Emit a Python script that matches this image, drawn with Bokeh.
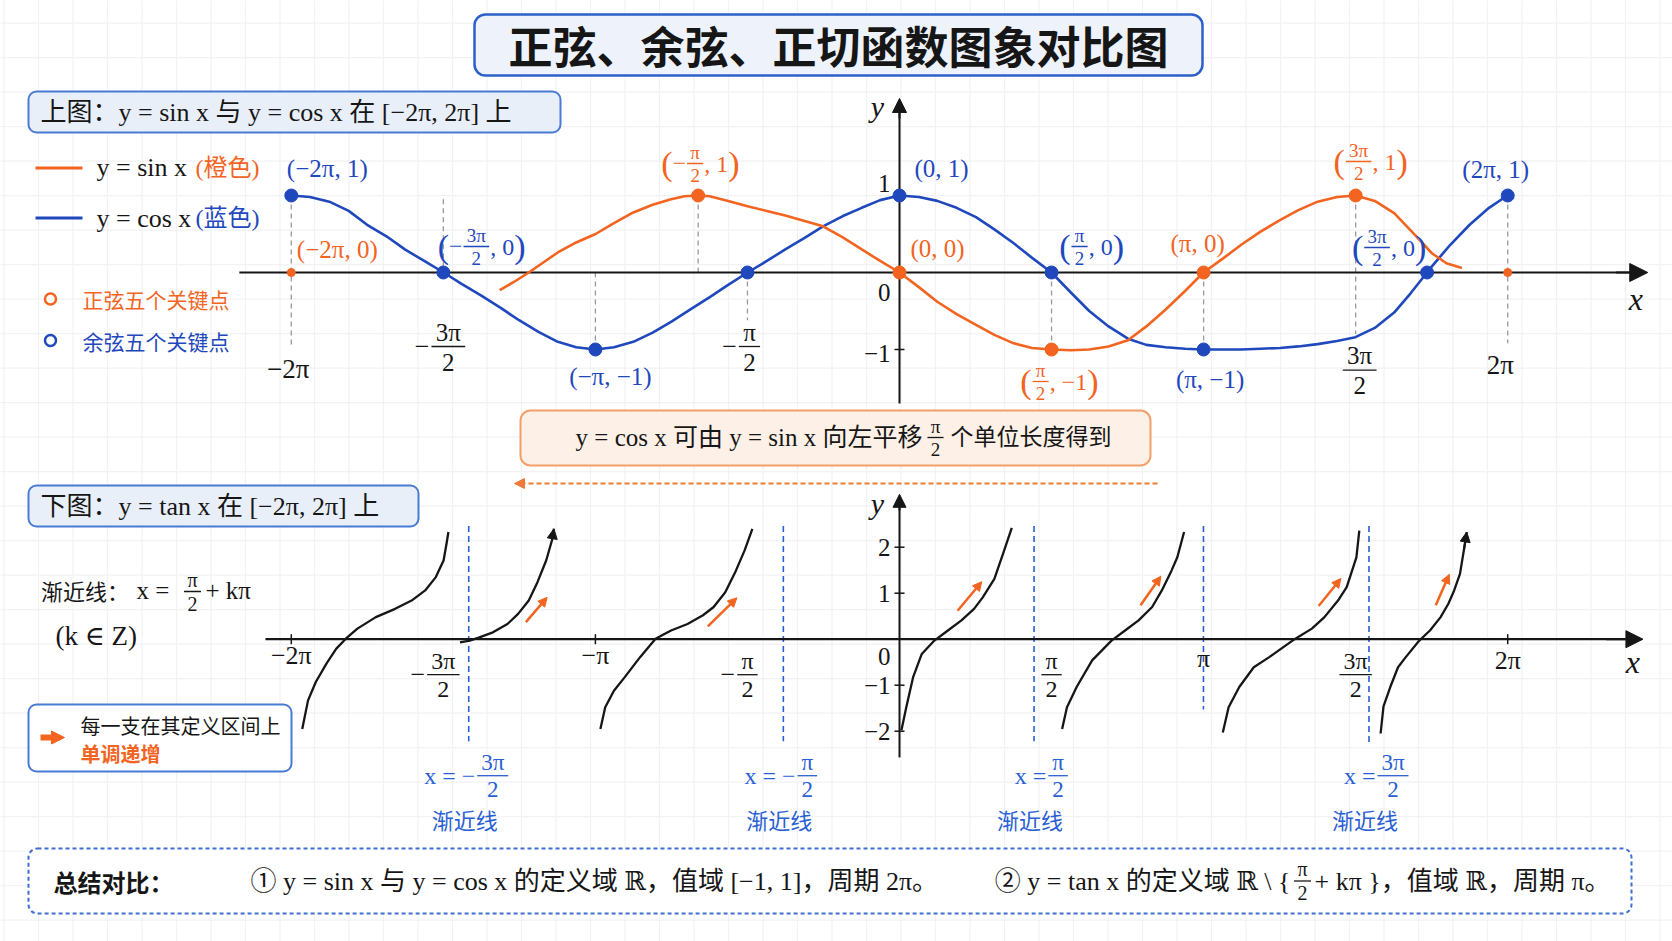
import numpy as np
from bokeh.plotting import figure
from bokeh.models import Range1d, Arrow, NormalHead, BoxAnnotation
from bokeh.core.properties import value
from bokeh.embed import file_html
from bokeh.resources import INLINE

PI = np.pi

# ===================== DATA =====================
title = "正弦、余弦、正切函数图象对比图"
top_caption = "上图：y = sin x 与 y = cos x 在 [−2π, 2π] 上"
bot_caption = "下图：y = tan x 在 [−2π, 2π] 上"

# upper chart, blue curve (y = cos x)
cos_x = [-6.28, -6.09, -5.89, -5.69, -5.50, -5.30, -5.11, -4.91, -4.71, -4.52, -4.32, -4.12,
         -3.93, -3.73, -3.53, -3.34, -3.14, -2.95, -2.75, -2.55, -2.36, -2.16, -1.96, -1.77,
         -1.57, -1.37, -1.18, -0.98, -0.79, -0.59, -0.39, -0.20, 0.00, 0.20, 0.39, 0.59,
         0.79, 0.98, 1.18, 1.37, 1.57, 1.77, 1.96, 2.16, 2.36, 2.55, 2.75, 2.95,
         3.14, 3.34, 3.53, 3.73, 3.93, 4.12, 4.32, 4.52, 4.71, 4.91, 5.11, 5.28,
         5.45, 5.50, 5.69, 5.89, 6.09, 6.28]
cos_y = [1.00, 0.98, 0.92, 0.80, 0.62, 0.47, 0.30, 0.15, 0.00, -0.15, -0.30, -0.46,
         -0.62, -0.77, -0.90, -0.97, -1.00, -0.97, -0.90, -0.78, -0.64, -0.48, -0.32, -0.16,
         0.00, 0.15, 0.30, 0.45, 0.60, 0.73, 0.84, 0.94, 1.00, 0.98, 0.93, 0.84,
         0.72, 0.56, 0.38, 0.19, 0.00, -0.26, -0.50, -0.70, -0.86, -0.94, -0.97, -0.99,
         -1.00, -1.00, -1.00, -0.99, -0.98, -0.96, -0.93, -0.89, -0.84, -0.72, -0.52, -0.27,
         0.00, 0.08, 0.36, 0.62, 0.84, 1.00]
# upper chart, orange curve (y = sin x)
sin_x = [-4.13, -3.98, -3.83, -3.68, -3.53, -3.34, -3.14, -2.95, -2.75, -2.55, -2.36, -2.22,
         -2.08, -1.96, -1.77, -1.57, -1.37, -1.18, -0.98, -0.79, -0.59, -0.39, -0.20, 0.00,
         0.20, 0.39, 0.59, 0.79, 0.98, 1.18, 1.37, 1.57, 1.77, 1.96, 2.16, 2.36,
         2.55, 2.75, 2.95, 3.14, 3.34, 3.53, 3.73, 3.93, 4.12, 4.32, 4.52, 4.71,
         4.91, 5.11, 5.30, 5.50, 5.65, 5.81]
sin_y = [-0.23, -0.12, 0.00, 0.13, 0.26, 0.39, 0.50, 0.64, 0.78, 0.88, 0.95, 0.99,
         1.00, 0.99, 0.93, 0.86, 0.80, 0.74, 0.67, 0.60, 0.46, 0.30, 0.15, 0.00,
         -0.19, -0.38, -0.54, -0.68, -0.81, -0.92, -0.98, -1.00, -1.01, -1.00, -0.96, -0.88,
         -0.70, -0.48, -0.24, 0.00, 0.18, 0.36, 0.53, 0.68, 0.81, 0.92, 0.98, 1.00,
         0.93, 0.77, 0.52, 0.25, 0.12, 0.06]

# key points
cos_key_x = [-2 * PI, -1.5 * PI, -PI, -0.5 * PI, 0.0, 0.5 * PI, PI, 5.45, 2 * PI]
cos_key_y = [1, 0, -1, 0, 1, 0, -1, 0, 1]
sin_key_x = [-2.08, 0.0, 0.5 * PI, PI, 1.5 * PI]
sin_key_y = [1, 0, -1, 0, 1]
sin_end_x = [-2 * PI, 2 * PI]
sin_end_y = [0, 0]

# point labels: plain ones
cos_lab_text = ["(−2π, 1)", "(−π, −1)", "(0, 1)", "(π, −1)", "(2π, 1)"]
cos_lab_x = [-2 * PI, -PI, 0.0, PI, 2 * PI]
cos_lab_y = [1, -1, 1, -1, 1]
sin_lab_text = ["(−2π, 0)", "(0, 0)", "(π, 0)"]
sin_lab_x = [-2 * PI, 0.0, PI]
sin_lab_y = [0, 0, 0]
# point labels with a fraction: (prefix, numerator, denominator, suffix)
cos_flab = [("−", "3π", "2", ", 0"), ("", "π", "2", ", 0"), ("", "3π", "2", ", 0")]
cos_flab_x = [-1.5 * PI, 0.5 * PI, 5.45]
cos_flab_y = [0, 0, 0]
sin_flab = [("−", "π", "2", ", 1"), ("", "π", "2", ", −1"), ("", "3π", "2", ", 1")]
sin_flab_x = [-2.08, 0.5 * PI, 1.5 * PI]
sin_flab_y = [1, -1, 1]

# guide lines (x, y from, y to)
guide_x = [-2 * PI, -1.5 * PI, -PI, -2.08, -0.5 * PI, 0.5 * PI, PI, 1.5 * PI, 2 * PI]
guide_y0 = [1.0, 0.95, 0.0, 1.0, 0.0, 0.0, 0.0, 1.0, 1.0]
guide_y1 = [-0.95, 0.0, -1.0, 0.0, -0.62, -1.0, -1.0, -0.80, -0.92]

# upper axis tick labels
top_tick_text = ["−2π", "2π"]
top_tick_x = [-2 * PI, 2 * PI]
top_ftick = [("−", "3π", "2"), ("−", "π", "2"), ("", "3π", "2")]
top_ftick_x = [-1.5 * PI, -0.5 * PI, 1.5 * PI]
top_ytick = [1, -1]
top_ytick_text = ["1", "−1"]

# lower chart: tan branches
tan_xs = [
    [-6.17, -6.11, -6.03, -5.92, -5.82, -5.72, -5.60, -5.41, -5.21, -5.04, -4.90, -4.79, -4.71, -4.68, -4.66],
    [-4.54, -4.44, -4.34, -4.20, -4.05, -3.94, -3.83, -3.74, -3.65, -3.59, -3.57],
    [-3.09, -3.04, -2.95, -2.84, -2.68, -2.52, -2.36, -2.19, -2.03, -1.92, -1.80, -1.69, -1.60, -1.52],
    [0.02, 0.07, 0.14, 0.23, 0.36, 0.50, 0.64, 0.77, 0.86, 0.98, 1.07, 1.16],
    [1.68, 1.73, 1.83, 1.99, 2.19, 2.33, 2.47, 2.61, 2.71, 2.81, 2.87, 2.94],
    [3.34, 3.40, 3.51, 3.66, 3.82, 4.06, 4.26, 4.39, 4.53, 4.62, 4.72, 4.75],
    [4.97, 5.00, 5.07, 5.15, 5.23, 5.37, 5.48, 5.59, 5.67, 5.73, 5.79, 5.83, 5.86],
]
tan_ys = [
    [-1.95, -1.33, -0.93, -0.53, -0.21, 0.01, 0.23, 0.48, 0.66, 0.84, 1.06, 1.35, 1.71, 2.07, 2.33],
    [-0.07, -0.03, 0.04, 0.15, 0.33, 0.55, 0.84, 1.24, 1.71, 2.15, 2.40],
    [-1.95, -1.48, -1.12, -0.83, -0.39, 0.01, 0.19, 0.33, 0.52, 0.70, 1.02, 1.49, 1.93, 2.40],
    [-1.98, -1.48, -0.83, -0.32, -0.03, 0.19, 0.41, 0.66, 0.91, 1.31, 1.86, 2.42],
    [-1.95, -1.48, -1.04, -0.46, -0.03, 0.19, 0.41, 0.70, 1.06, 1.49, 1.78, 2.33],
    [-2.03, -1.48, -1.04, -0.61, -0.39, -0.03, 0.23, 0.48, 0.84, 1.13, 1.78, 2.36],
    [-2.05, -1.46, -1.04, -0.61, -0.39, -0.03, 0.19, 0.48, 0.77, 1.06, 1.42, 1.93, 2.33],
]
tan_arrow_branches = [1, 6]

# asymptotes
asym_x = [-4.45, -1.20, 1.39, 3.14, 4.85]
asym_top = [2.46, 2.46, 2.46, 2.46, 2.46]
asym_bot = [-2.22, -2.22, -2.22, -1.53, -2.26]
asym_lab_x = [-4.45, -1.20, 1.39, 4.85]
asym_lab = [("x = −", "3π", "2"), ("x = −", "π", "2"), ("x =", "π", "2"), ("x =", "3π", "2")]
asym_word = "渐近线"

# "increasing" arrows
inc_x0 = [-3.86, -1.98, 0.60, 2.49, 4.33, 5.54]
inc_y0 = [0.37, 0.28, 0.62, 0.74, 0.72, 0.74]
inc_x1 = [-3.64, -1.68, 0.85, 2.70, 4.56, 5.68]
inc_y1 = [0.91, 0.90, 1.25, 1.37, 1.32, 1.41]

# lower axis ticks
bot_tick_text = ["−2π", "−π", "π", "2π"]
bot_tick_x = [-2 * PI, -PI, PI, 2 * PI]
bot_ftick = [("−", "3π", "2"), ("−", "π", "2"), ("", "π", "2"), ("", "3π", "2")]
bot_ftick_x = [-1.5 * PI, -0.5 * PI, 0.5 * PI, 1.5 * PI]
bot_xmark = [-2 * PI, -PI, 2 * PI]
bot_ytick = [2, 1, -1, -2]
bot_ytick_text = ["2", "1", "−1", "−2"]

legend_sin = ("y = sin x", "(橙色)")
legend_cos = ("y = cos x", "(蓝色)")
legend_keys = ["正弦五个关键点", "余弦五个关键点"]
shift_pre, shift_num, shift_den, shift_post = "y = cos x 可由 y = sin x 向左平移", "π", "2", "个单位长度得到"
asym_rule = ("渐近线：", "x =", "π", "2", "+ kπ", "(k ∈ Z)")
mono_text = ("每一支在其定义区间上", "单调递增")
summary_head = "总结对比："
summary_1 = "① y = sin x 与 y = cos x 的定义域 ℝ，值域 [−1, 1]，周期 2π。"
summary_2 = ("② y = tan x 的定义域 ℝ \\ {", "π", "2", "+ kπ }，值域 ℝ，周期 π。")

# ===================== LAYOUT / STYLE =====================
W, H = 1672, 941
X0, SX = 899.0, 96.8          # pixel of x = 0, pixels per radian
Y0_TOP, UY_TOP = 272.0, 77.0  # upper chart
Y0_TAN, UY_TAN = 638.7, 46.0  # lower chart

ORANGE = "#f2641f"
BLUE = "#1f48bd"
DARK = "#161616"
ABLUE = "#2b5fd4"
SERIF = "Liberation Serif, DejaVu Serif, Noto Sans CJK SC"
CJK = "Noto Sans CJK SC"

p = figure(width=W, height=H, x_range=Range1d(-X0 / SX, (W - X0) / SX), y_range=Range1d(H, 0),
           output_backend="svg", toolbar_location=None, min_border=0,
           x_axis_location=None, y_axis_location=None)
p.extra_x_ranges = {"px": Range1d(0, W)}
p.extra_y_ranges = {"top": Range1d((Y0_TOP - H) / UY_TOP, Y0_TOP / UY_TOP),
                    "tan": Range1d((Y0_TAN - H) / UY_TAN, Y0_TAN / UY_TAN)}
p.xgrid.visible = False
p.ygrid.visible = False
p.outline_line_color = None
p.background_fill_color = "white"
p.border_fill_color = "white"

XS = {"default": SX, "px": 1.0}
YS = {"default": 1.0, "top": -UY_TOP, "tan": -UY_TAN}
CW = {'(': .333, ')': .333, '−': .564, ',': .25, ' ': .25, 'π': .55, '=': .564, '+': .564}


def fwidth(s, size):
    return sum(CW.get(c, 0.5) for c in s) * size


def T(x, y, s, xr="default", yr="default", dx=0.0, dy=0.0, size=22, color=DARK, font=SERIF,
      align="center", baseline="middle", style="normal"):
    p.text(x=[x + dx / XS[xr]], y=[y + dy / YS[yr]], text=[s], x_range_name=xr, y_range_name=yr,
           text_font=value(font), text_font_size=value(f"{size}px"), text_color=color,
           text_align=align, text_baseline=baseline, text_font_style=style)


def frac(x, y, num, den, xr, yr, dx, dy, fs, color):
    w = fwidth(num, fs) + 0.3 * fs
    T(x, y, num, xr, yr, dx, dy - 0.58 * fs, size=fs, color=color)
    T(x, y, den, xr, yr, dx, dy + 0.62 * fs, size=fs, color=color)
    yy = y + dy / YS[yr]
    p.segment(x0=[x + (dx - w / 2) / XS[xr]], y0=[yy], x1=[x + (dx + w / 2) / XS[xr]], y1=[yy],
              line_color=color, line_width=1.3, x_range_name=xr, y_range_name=yr)
    return w


def plabel(x, y, pre, num, den, post, xr, yr, dx, dy, size, color):
    fs = round(size * 0.8)
    w = frac(x, y, num, den, xr, yr, dx, dy, fs, color)
    lft = dx - w / 2 - 1
    if pre:
        T(x, y, pre, xr, yr, lft, dy, size=size, color=color, align="right")
        lft -= fwidth(pre, size)
    T(x, y, "(", xr, yr, lft, dy, size=int(size * 1.45), color=color, align="right")
    rgt = dx + w / 2 + 1
    T(x, y, post, xr, yr, rgt, dy, size=size, color=color, align="left")
    rgt += fwidth(post, size)
    T(x, y, ")", xr, yr, rgt, dy, size=int(size * 1.45), color=color, align="left")


def box(l, t, r, b, fill, line, lw=2.0, dash="solid", radius=8):
    p.add_layout(BoxAnnotation(left=l, right=r, top=t, bottom=b, x_range_name="px",
                               fill_color=fill, fill_alpha=1.0, line_color=line, line_alpha=1.0,
                               line_width=lw, line_dash=dash, border_radius=radius, level="underlay"))


def arrow(x0, y0, x1, y1, yr, color, lw, head, xr="default", dash="solid"):
    p.add_layout(Arrow(end=NormalHead(size=head, fill_color=color, line_color=color, line_width=1),
                       x_start=x0, y_start=y0, x_end=x1, y_end=y1, line_color=color,
                       line_width=lw, line_dash=dash, x_range_name=xr, y_range_name=yr))


# faint background grid
gx = np.arange(3.5, W, 34.5)
gy = np.arange(22.7, H, 34.5)
p.segment(x0=gx, y0=0, x1=gx, y1=H, x_range_name="px", line_color="#f1f2f5", line_width=1.2, level="image")
p.segment(x0=0, y0=gy, x1=W, y1=gy, x_range_name="px", line_color="#f1f2f5", line_width=1.2, level="image")

# boxes
box(474, 14, 1202, 75, "#edf2fb", "#2c5fc8", lw=2.5, radius=11)
box(28, 91, 560, 132, "#e8eff9", "#4a7bd3", lw=2, radius=8)
box(520, 410, 1150, 465, "#fdf0e6", "#f1a06b", lw=2, radius=10)
box(28, 485, 418, 526, "#e8eff9", "#4a7bd3", lw=2, radius=8)
box(28, 704, 291, 771, "#ffffff", "#4a7bd3", lw=2, radius=8)
box(28, 848, 1631, 913, "#ffffff", "#3f6fd0", lw=2, dash="4 3", radius=9)

# title and captions
T(838, 44.5, title, xr="px", size=44, font=CJK, style="bold")
T(40, 111.5, top_caption, xr="px", size=26, align="left")
T(40, 505.5, bot_caption, xr="px", size=26, align="left")

# legend
p.segment(x0=[35, 35], y0=[167.4, 217.5], x1=[82, 82], y1=[167.4, 217.5], x_range_name="px",
          line_color=[ORANGE, BLUE], line_width=3)
T(96, 167.4, legend_sin[0], xr="px", size=26, align="left")
T(195, 167.4, legend_sin[1], xr="px", size=24, color=ORANGE, align="left")
T(96, 217.5, legend_cos[0], xr="px", size=26, align="left")
T(195, 217.5, legend_cos[1], xr="px", size=24, color=BLUE, align="left")
p.scatter([50, 50], [298.6, 340], x_range_name="px", size=11, fill_color="white",
          line_color=[ORANGE, BLUE], line_width=2.5)
T(82, 298.6, legend_keys[0], xr="px", size=21, font=CJK, color=ORANGE, align="left")
T(82, 340, legend_keys[1], xr="px", size=21, font=CJK, color=BLUE, align="left")

# ---------------- upper chart ----------------
p.segment(x0=guide_x, y0=guide_y0, x1=guide_x, y1=guide_y1, y_range_name="top",
          line_color="#9a9a9a", line_width=1.3, line_dash="5 4")
p.segment(x0=[-6.82], y0=[0], x1=[7.6], y1=[0], y_range_name="top", line_color=DARK, line_width=2.2)
arrow(7.4, 0, 7.73, 0, "top", DARK, 2.2, 18)
p.segment(x0=[0], y0=[-1.70], x1=[0], y1=[2.15], y_range_name="top", line_color=DARK, line_width=2.0)
arrow(0, 2.0, 0, 2.26, "top", DARK, 2.0, 14)
p.scatter([0, 0], top_ytick, marker="dash", size=10, y_range_name="top", line_color=DARK, line_width=1.5)
T(7.73, 0, "x", yr="top", dx=-12, dy=26, size=32, style="italic")
T(0, 2.26, "y", yr="top", dx=-22, dy=8, size=30, style="italic")
T(0, 0, "0", yr="top", dx=-9, dy=20, size=25, align="right")
T(0, top_ytick[0], top_ytick_text[0], yr="top", dx=-9, dy=-12, size=25, align="right")
T(0, top_ytick[1], top_ytick_text[1], yr="top", dx=-9, dy=4, size=25, align="right")

top_tick_off = [(-3, 96), (-7.5, 92)]
for s, x, (dx, dy) in zip(top_tick_text, top_tick_x, top_tick_off):
    T(x, 0, s, yr="top", dx=dx, dy=dy, size=27)
top_ftick_off = [(5, 74), (2, 74), (4, 97.6)]
for (pre, num, den), x, (dx, dy) in zip(top_ftick, top_ftick_x, top_ftick_off):
    w = frac(x, 0, num, den, "default", "top", dx, dy, 25, DARK)
    if pre:
        T(x, 0, pre, yr="top", dx=dx - w / 2 - 2, dy=dy, size=26, align="right")

p.line(cos_x, cos_y, y_range_name="top", line_color=BLUE, line_width=2.6)
p.line(sin_x, sin_y, y_range_name="top", line_color=ORANGE, line_width=2.6)
p.scatter(cos_key_x, cos_key_y, y_range_name="top", size=13, fill_color=BLUE, line_color=BLUE)
p.scatter(sin_key_x, sin_key_y, y_range_name="top", size=13, fill_color=ORANGE, line_color=ORANGE)
p.scatter(sin_end_x, sin_end_y, y_range_name="top", size=8, fill_color=ORANGE, line_color=ORANGE)

cos_lab_off = [(36, -27), (15, 27), (42, -27), (6.5, 30), (-12, -26)]
for s, x, y, (dx, dy) in zip(cos_lab_text, cos_lab_x, cos_lab_y, cos_lab_off):
    T(x, y, s, yr="top", dx=dx, dy=dy, size=25, color=BLUE)
sin_lab_off = [(46, -23), (38, -24), (-6, -29)]
for s, x, y, (dx, dy) in zip(sin_lab_text, sin_lab_x, sin_lab_y, sin_lab_off):
    T(x, y, s, yr="top", dx=dx, dy=dy, size=25, color=ORANGE)
cos_flab_off = [(33, -26), (28, -26), (-50, -25)]
for (pre, num, den, post), x, y, (dx, dy) in zip(cos_flab, cos_flab_x, cos_flab_y, cos_flab_off):
    plabel(x, y, pre, num, den, post, "default", "top", dx, dy, 24, BLUE)
sin_flab_off = [(-3, -32), (-11, 32), (3, -34)]
for (pre, num, den, post), x, y, (dx, dy) in zip(sin_flab, sin_flab_x, sin_flab_y, sin_flab_off):
    plabel(x, y, pre, num, den, post, "default", "top", dx, dy, 24, ORANGE)

# middle note
T(922, 437, shift_pre, xr="px", size=25, align="right")
frac(935, 437, shift_num, shift_den, "px", "default", 0, 0, 19, DARK)
T(950, 437, shift_post, xr="px", size=23, align="left")
arrow(1157, 483, 514, 483, "default", "#f07a3a", 2.0, 10, xr="px", dash="5 3")

# ---------------- lower chart ----------------
p.segment(x0=asym_x, y0=asym_top, x1=asym_x, y1=asym_bot, y_range_name="tan",
          line_color=ABLUE, line_width=1.6, line_dash="6 4")
p.segment(x0=[-6.55], y0=[0], x1=[7.5], y1=[0], y_range_name="tan", line_color=DARK, line_width=2.2)
arrow(7.3, 0, 7.68, 0, "tan", DARK, 2.2, 17)
p.segment(x0=[0], y0=[-2.57], x1=[0], y1=[2.95], y_range_name="tan", line_color=DARK, line_width=2.0)
arrow(0, 2.8, 0, 3.15, "tan", DARK, 2.0, 13)
p.scatter([0] * len(bot_ytick), bot_ytick, marker="dash", size=10, y_range_name="tan",
          line_color=DARK, line_width=1.5)
p.scatter(bot_xmark, [0] * len(bot_xmark), marker="dash", angle=PI / 2, size=10, y_range_name="tan",
          line_color=DARK, line_width=1.5)
T(7.68, 0, "x", yr="tan", dx=-10, dy=23, size=32, style="italic")
T(0, 3.15, "y", yr="tan", dx=-22, dy=9, size=30, style="italic")
T(0, 0, "0", yr="tan", dx=-9, dy=17, size=25, align="right")
for v, s in zip(bot_ytick, bot_ytick_text):
    T(0, v, s, yr="tan", dx=-9, dy=0, size=25, align="right")
bot_tick_off = [16, 16, 19, 21]
for s, x, dy in zip(bot_tick_text, bot_tick_x, bot_tick_off):
    T(x, 0, s, yr="tan", dy=dy, size=26)
for (pre, num, den), x in zip(bot_ftick, bot_ftick_x):
    w = frac(x, 0, num, den, "default", "tan", 0, 35.5, 24, DARK)
    if pre:
        T(x, 0, pre, yr="tan", dx=-w / 2 - 2, dy=35.5, size=26, align="right")

p.multi_line(tan_xs, tan_ys, y_range_name="tan", line_color=DARK, line_width=2.3)
for i in tan_arrow_branches:
    arrow(tan_xs[i][-2], tan_ys[i][-2], tan_xs[i][-1], tan_ys[i][-1], "tan", DARK, 2.0, 10)
for a, b, c, d in zip(inc_x0, inc_y0, inc_x1, inc_y1):
    arrow(a, b, c, d, "tan", ORANGE, 2.5, 9)

for (pre, num, den), x in zip(asym_lab, asym_lab_x):
    w = frac(x, 0, num, den, "default", "tan", 24, 136.5, 23, ABLUE)
    T(x, 0, pre, yr="tan", dx=24 - w / 2 - 2, dy=136.5, size=24, color=ABLUE, align="right")
    T(x, 0, asym_word, yr="tan", dx=-4, dy=180, size=22, font=CJK, color=ABLUE)

# left notes
T(40.5, 589.7, asym_rule[0], xr="px", size=22, font=CJK, align="left")
T(136, 589.7, asym_rule[1], xr="px", size=25, align="left")
frac(192, 591, asym_rule[2], asym_rule[3], "px", "default", 0, 0, 20, DARK)
T(205, 589.7, asym_rule[4], xr="px", size=25, align="left")
T(55, 635.5, asym_rule[5], xr="px", size=27, align="left")
arrow(40, 737, 64, 737, "default", ORANGE, 6, 13, xr="px")
T(80, 725, mono_text[0], xr="px", size=20, font=CJK, align="left")
T(80, 753, mono_text[1], xr="px", size=20, font=CJK, color=ORANGE, align="left", style="bold")

# summary
T(53, 880.5, summary_head, xr="px", size=24, font=CJK, style="bold", align="left")
T(250, 880.5, summary_1, xr="px", size=26, align="left")
T(1290, 880.5, summary_2[0], xr="px", size=26, align="right")
frac(1302, 880.5, summary_2[1], summary_2[2], "px", "default", 0, 0, 20, DARK)
T(1314, 880.5, summary_2[3], xr="px", size=26, align="left")

open("out.html", "w").write(file_html(p, INLINE))
